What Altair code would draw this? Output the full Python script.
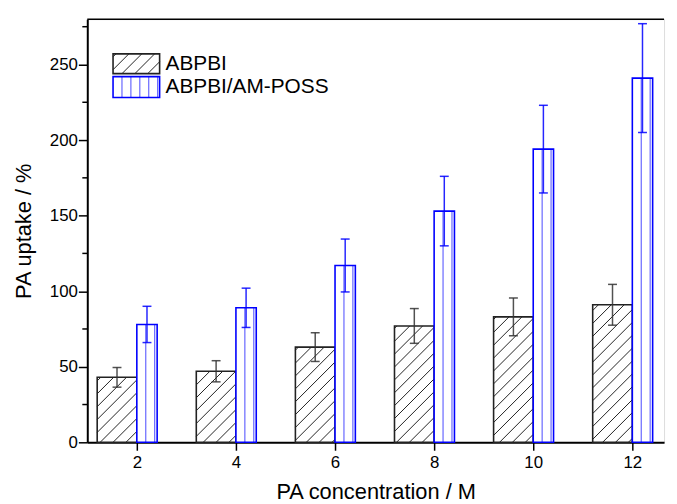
import altair as alt
import pandas as pd

# ---------------- data ----------------
conc = [2, 4, 6, 8, 10, 12]
abpbi = [43, 47, 63, 77, 83, 91]
abpbi_err = [6.5, 7, 9.5, 11.5, 12.5, 13.5]
poss = [78, 89, 117, 153, 194, 241]
poss_err = [12, 13, 17.5, 23, 29, 36]
series = ["ABPBI", "ABPBI/AM-POSS"]
y_ticks = [0, 50, 100, 150, 200, 250]
y_minor = [25, 75, 125, 175, 225, 275]

# ---------------- layout ----------------
W, H = 582, 427
XMIN, XMAX = 1.0, 12.64
YMIN, YMAX = 0.0, 280.0
SX = W / (XMAX - XMIN)
SY = H / (YMAX - YMIN)
BW_BLACK = 0.8
BW_BLUE = 0.41
HATCH = 13.0   # px spacing of diagonal hatch
VSTEP = 9.0    # px spacing of vertical hatch
CAP = 0.09     # half cap width (x units)
FONT = "Liberation Sans"
BLUE = "#0000ff"
DARK = "#222222"


def to_px_x(xd):
    return (xd - XMIN) * SX


def to_dx(px):
    return XMIN + px / SX


def to_dy(py):
    return YMIN + py / SY


def diag_segments(x0, x1, y0, y1, anchor_x=0.0, anchor_y=0.0):
    """Diagonal '/' segments clipped to a pixel rect (y up)."""
    segs = []
    off = anchor_y - anchor_x
    bmin = (y0 - x1) - off
    bmax = (y1 - x0) - off
    k = int(bmin // HATCH) - 1
    while k * HATCH <= bmax + HATCH:
        b = k * HATCH + off
        lo = max(x0, y0 - b)
        hi = min(x1, y1 - b)
        if hi - lo > 0.5:
            segs.append((lo, lo + b, hi, hi + b))
        k += 1
    return segs


xs = alt.Scale(domain=[XMIN, XMAX], nice=False, zero=False)
ys = alt.Scale(domain=[YMIN, YMAX], nice=False, zero=False)

x_axis = alt.Axis(
    values=conc, format="d", title="PA concentration / M", grid=False,
    tickSize=8, tickWidth=1.5, tickColor="black", domainColor="black",
    domainWidth=2, labelFont=FONT, labelFontSize=17, labelColor="black",
    labelPadding=4, titleFont=FONT, titleFontSize=22, titleFontWeight="normal",
    titleColor="black", titlePadding=12)
y_axis = alt.Axis(
    values=y_ticks, format="d", title="PA uptake / %", grid=False,
    tickSize=9, tickWidth=1.5, tickColor="black", domainColor="black",
    domainWidth=2, labelFont=FONT, labelFontSize=17, labelColor="black",
    labelPadding=1, titleFont=FONT, titleFontSize=22, titleFontWeight="normal",
    titleColor="black", titlePadding=14)

# bars
black_rows, blue_rows, hatch_rows, vline_rows, err_rows = [], [], [], [], []
for c, v, e in zip(conc, abpbi, abpbi_err):
    x0, x1 = c - BW_BLACK, c
    black_rows.append({"x0": x0, "x1": x1, "y0": 0.0, "y1": v})
    for (a, b, cc, d) in diag_segments(to_px_x(x0), to_px_x(x1), 0.0, v * SY):
        hatch_rows.append({"xa": to_dx(a), "ya": to_dy(b), "xb": to_dx(cc), "yb": to_dy(d)})
    xc = c - BW_BLACK / 2
    err_rows.append({"s": series[0], "xc": xc, "lo": v - e, "hi": v + e,
                     "cl": xc - CAP, "cr": xc + CAP})
for c, v, e in zip(conc, poss, poss_err):
    x0, x1 = c, c + BW_BLUE
    blue_rows.append({"x0": x0, "x1": x1, "y0": 0.0, "y1": v})
    px0, px1 = to_px_x(x0), to_px_x(x1)
    p = px0 + VSTEP
    while p < px1 - 1.0:
        vline_rows.append({"xv": to_dx(p), "ya": 0.0, "yb": v})
        p += VSTEP
    xc = c + BW_BLUE / 2
    err_rows.append({"s": series[1], "xc": xc, "lo": v - e, "hi": v + e,
                     "cl": xc - CAP, "cr": xc + CAP})

# legend (pixel layout converted to data coordinates)
LX0, LX1 = 26.0, 73.0
leg_boxes = [(H - 55.0, H - 35.0), (H - 79.0, H - 58.0)]
leg_rect_black = [{"x0": to_dx(LX0), "x1": to_dx(LX1),
                   "y0": to_dy(leg_boxes[0][0]), "y1": to_dy(leg_boxes[0][1])}]
leg_rect_blue = [{"x0": to_dx(LX0), "x1": to_dx(LX1),
                  "y0": to_dy(leg_boxes[1][0]), "y1": to_dy(leg_boxes[1][1])}]
for (a, b, cc, d) in diag_segments(LX0, LX1, leg_boxes[0][0], leg_boxes[0][1],
                                   anchor_x=LX0, anchor_y=leg_boxes[0][0] + 4):
    hatch_rows.append({"xa": to_dx(a), "ya": to_dy(b), "xb": to_dx(cc), "yb": to_dy(d)})
p = LX0 + VSTEP
while p < LX1 - 1.0:
    vline_rows.append({"xv": to_dx(p), "ya": to_dy(leg_boxes[1][0]), "yb": to_dy(leg_boxes[1][1])})
    p += VSTEP
leg_text = [{"x": to_dx(79.0), "y": to_dy(H - 45.5), "t": series[0]},
            {"x": to_dx(79.0), "y": to_dy(H - 69.0), "t": series[1]}]

black_df = pd.DataFrame(black_rows + leg_rect_black)
blue_df = pd.DataFrame(blue_rows + leg_rect_blue)
hatch_df = pd.DataFrame(hatch_rows)
vline_df = pd.DataFrame(vline_rows)
err_df = pd.DataFrame(err_rows)
minor_df = pd.DataFrame({"m": y_minor})
text_df = pd.DataFrame(leg_text)
one_df = pd.DataFrame({"a": [0]})


def X(f):
    return alt.X(f, type="quantitative", scale=xs, axis=x_axis)


def Y(f):
    return alt.Y(f, type="quantitative", scale=ys, axis=y_axis)


base_bars = alt.Chart(black_df).mark_rect(fill="white").encode(
    x=X("x0"), x2="x1:Q", y=Y("y0"), y2="y1:Q")

hatch = alt.Chart(hatch_df).mark_rule(color=DARK, strokeWidth=1).encode(
    x=X("xa"), y=Y("ya"), x2="xb:Q", y2="yb:Q")

black_outline = alt.Chart(black_df).mark_rect(fillOpacity=0, stroke=DARK, strokeWidth=1.6).encode(
    x=X("x0"), x2="x1:Q", y=Y("y0"), y2="y1:Q")

blue_fill = alt.Chart(blue_df).mark_rect(fill="white").encode(
    x=X("x0"), x2="x1:Q", y=Y("y0"), y2="y1:Q")

vlines = alt.Chart(vline_df).mark_rule(color=BLUE, strokeWidth=1.2, opacity=0.6).encode(
    x=X("xv"), y=Y("ya"), y2="yb:Q")

blue_outline = alt.Chart(blue_df).mark_rect(fillOpacity=0, stroke=BLUE, strokeWidth=1.6).encode(
    x=X("x0"), x2="x1:Q", y=Y("y0"), y2="y1:Q")

err_color = alt.Color("s:N", scale=alt.Scale(domain=series, range=["#333333", BLUE]), legend=None)
err_v = alt.Chart(err_df).mark_rule(strokeWidth=1.5, opacity=0.85).encode(
    x=X("xc"), y=Y("lo"), y2="hi:Q", color=err_color)
err_top = alt.Chart(err_df).mark_rule(strokeWidth=1.5, opacity=0.85).encode(
    x=X("cl"), x2="cr:Q", y=Y("hi"), color=err_color)
err_bot = alt.Chart(err_df).mark_rule(strokeWidth=1.5, opacity=0.85).encode(
    x=X("cl"), x2="cr:Q", y=Y("lo"), color=err_color)

minor = alt.Chart(minor_df).mark_rule(color="black", strokeWidth=1.5).encode(
    y=Y("m"), x=alt.value(-5), x2=alt.value(0))

top_line = alt.Chart(one_df).mark_rule(color="black", strokeWidth=1.5).encode(
    y=alt.value(0), x=alt.value(0), x2=alt.value(W))

legend_text = alt.Chart(text_df).mark_text(
    align="left", baseline="middle", font=FONT, fontSize=21, color="black").encode(
    x=X("x"), y=Y("y"), text="t:N")

chart = alt.layer(
    base_bars, hatch, black_outline, blue_fill, vlines, blue_outline,
    err_v, err_top, err_bot, minor, top_line, legend_text
).properties(
    width=W, height=H,
    autosize=alt.AutoSizeParams(type="none"),
    padding={"left": 80, "top": 9, "right": 5, "bottom": 61},
).configure_view(stroke=None).configure(background="white")

chart.save("out.html", embed_options={"renderer": "svg", "actions": False})
